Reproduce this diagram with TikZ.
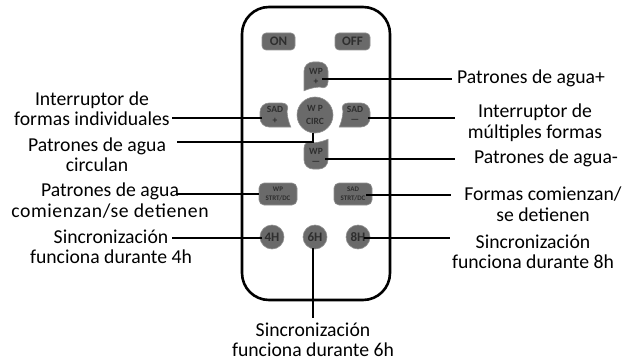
\documentclass[tikz,border=0pt]{standalone}
\usepackage{fontspec}
\setmainfont{Carlito}
\definecolor{btngray}{HTML}{6A6A6A}
\definecolor{btnedge}{HTML}{909090}
\definecolor{btntext}{HTML}{2E2E2E}
\begin{document}
\begin{tikzpicture}[x=1pt,y={(0pt,-1pt)},
  lbl/.style={font=\fontsize{19.7}{20.5}\selectfont, align=center, inner sep=0pt},
  btn/.style={fill=btngray, draw=btnedge, line width=0.6pt},
  btxt/.style={font=\bfseries\fontsize{13}{13}\selectfont, text=btntext, inner sep=0pt},
  bsm/.style={font=\bfseries\fontsize{9.5}{9.5}\selectfont, text=btntext, inner sep=0pt},
  btiny/.style={font=\bfseries\fontsize{7}{7}\selectfont, text=btntext, inner sep=0pt},
  conn/.style={line width=1.6pt, black},
  body/.style={line width=2.6pt, rounded corners=27pt}]
\useasboundingbox (0,0) rectangle (626,361);
% remote body
\draw[body] (242,7) rectangle (390,300);
% ON / OFF
\draw[btn, rounded corners=4pt] (262,33) rectangle (295,50);
\node[btxt] (on) at (278.5,41.5) {ON};
\draw[btn, rounded corners=4pt] (335,33) rectangle (370,50);
\node[btxt] (off) at (352.5,41.5) {OFF};
% WP+ (top)
\draw[btn] (328,90.8) .. controls (320,87.1) and (312,87.1) .. (304,90.8)
  [rounded corners=9pt] -- (304,62) -- (328,62) -- cycle;
\node[bsm] (wpp) at (316,71) {WP};
\node[bsm] (wppsign) at (316,81.5) {+};
% SAD+ (left)
\draw[btn] (290.8,103) .. controls (287.1,111) and (287.1,119) .. (290.8,127)
  [rounded corners=9pt] -- (260,127) -- (260,103) -- cycle;
\node[bsm] (sadp) at (275,109.5) {SAD};
\node[bsm] (sadpsign) at (275,120.5) {+};
% SAD- (right)
\draw[btn] (339.2,103) .. controls (342.9,111) and (342.9,119) .. (339.2,127)
  [rounded corners=9pt] -- (370,127) -- (370,103) -- cycle;
\node[bsm] (sadm) at (355,109) {SAD};
\node[bsm] (sadmsign) at (355,121) {—};
% WP- (bottom)
\draw[btn] (304,139.2) .. controls (312,142.9) and (320,142.9) .. (328,139.2)
  [rounded corners=9pt] -- (328,169) -- (304,169) -- cycle;
\node[bsm] (wpm) at (316,151) {WP};
\node[bsm] (wpmsign) at (316,163) {—};
% WP CIRC
\draw[btn] (315,115) circle[radius=18pt];
\node[bsm] (circ1) at (315,108.5) {W P};
\node[bsm] (circ2) at (315,121) {CIRC};
% STRT/DC buttons
\draw[btn, rounded corners=5pt] (259,183) rectangle (297,205);
\node[btiny] (wps1) at (278,189) {WP};
\node[btiny] (wps2) at (278,198.5) {STRT/DC};
\draw[btn, rounded corners=5pt] (334,183) rectangle (372,205);
\node[btiny] (sads1) at (353,189) {SAD};
\node[btiny] (sads2) at (353,198.5) {STRT/DC};
% hour buttons
\draw[btn] (272,237) circle[radius=12pt];
\node[btxt] (h4) at (272,237) {4H};
\draw[btn] (315,237) circle[radius=12pt];
\node[btxt] (h6) at (315,237) {6H};
\draw[btn] (358,237) circle[radius=12pt];
\node[btxt] (h8) at (358,237) {8H};
% labels
\node[lbl] (l1) at (92,108.5) {Interruptor de\\formas individuales};
\node[lbl] (l2) at (97,154.5) {Patrones de agua\\circulan};
\node[lbl] (l3) at (110,200.5) {Patrones de agua\\{\addfontfeatures{LetterSpace=3}comienzan/se detienen}};
\node[lbl] (l4) at (111,247) {Sincronización\\funciona durante 4h};
\node[lbl, anchor=west] (r1) at (457,78) {Patrones de agua+};
\node[lbl] (r2) at (535,122.5) {Interruptor de\\múltiples formas};
\node[lbl] (r3) at (546,158) {Patrones de agua-};
\node[lbl] (r4) at (543,204) {Formas comienzan/\\se detienen};
\node[lbl] (r5) at (533,252) {Sincronización\\funciona durante 8h};
\node[lbl] (b6) at (313,340) {Sincronización\\funciona durante 6h};
% connector end points
\coordinate (cwpp) at (322,79);   \coordinate (er1) at (452,79);
\coordinate (csadp) at (262,118); \coordinate (el1) at (172,118);
\coordinate (csadm) at (368,118); \coordinate (er2) at (455,118);
\coordinate (ccirc) at (313,133); \coordinate (bend2) at (313,142); \coordinate (el2) at (177,142);
\coordinate (cwpm) at (325,159);  \coordinate (er3) at (455,159);
\coordinate (cwps) at (259,194);  \coordinate (el3) at (176,194);
\coordinate (csads) at (366,195); \coordinate (er4) at (451,195);
\coordinate (ch4) at (262,238);   \coordinate (el4) at (172,238);
\coordinate (ch8) at (364,238);   \coordinate (er5) at (450,238);
\coordinate (ch6) at (313,248);   \coordinate (eb6) at (313,318);
% connectors
\draw[conn] (cwpp) -- (er1);
\draw[conn] (csadp) -- (el1);
\draw[conn] (csadm) -- (er2);
\draw[conn] (ccirc) -- (bend2) -- (el2);
\draw[conn] (cwpm) -- (er3);
\draw[conn] (cwps) -- (el3);
\draw[conn] (csads) -- (er4);
\draw[conn] (ch4) -- (el4);
\draw[conn] (ch8) -- (er5);
\draw[conn] (ch6) -- (eb6);
\end{tikzpicture}
\end{document}
